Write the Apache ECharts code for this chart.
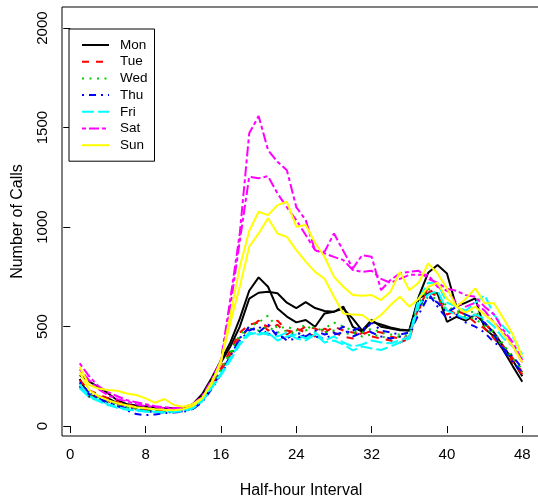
<!DOCTYPE html>
<html>
<head>
<meta charset="utf-8">
<script src="https://cdn.jsdelivr.net/npm/echarts@6/dist/echarts.min.js"></script>
<style>
html,body{margin:0;padding:0;background:#fff;}
#chart{width:538px;height:502px;}
</style>
</head>
<body>
<div id="chart"></div>
<script>
var intervals = [1,2,3,4,5,6,7,8,9,10,11,12,13,14,15,16,17,18,19,20,21,22,23,24,25,26,27,28,29,30,31,32,33,34,35,36,37,38,39,40,41,42,43,44,45,46,47,48];
var xTicks = [0,8,16,24,32,40,48];
var yTicks = [0,500,1000,1500,2000];
var dayNames = ["Mon","Tue","Wed","Thu","Fri","Sat","Sun"];

var mon1 = [256,225,195,165,130,110,105,100,95,90,88,92,110,160,240,330,420,540,680,747,700,591,550,521,533,499,566,574,600,499,474,524,510,495,485,480,650,770,809,767,600,620,642,490,450,380,300,223];
var mon2 = [236,147,148,140,114,108,100,95,92,90,88,94,105,150,230,320,400,500,640,670,675,667,620,593,623,593,578,575,590,540,480,533,499,490,482,480,642,667,667,524,549,530,560,516,470,400,330,250];
var tue1 = [230,180,160,140,120,110,95,85,80,75,78,80,95,140,210,290,380,470,510,520,500,530,480,470,500,490,470,500,480,470,460,480,470,450,440,450,600,680,650,590,560,540,560,520,460,400,340,270];
var tue2 = [200,160,140,125,110,100,90,80,75,70,72,78,90,130,200,280,360,450,490,530,480,510,460,490,470,450,490,470,450,440,470,450,440,430,420,440,580,700,640,560,580,560,520,490,440,390,320,260];
var wed1 = [215,165,145,125,110,95,88,80,78,75,78,82,95,135,205,285,370,460,500,520,555,490,500,480,510,470,490,520,500,480,470,490,470,460,460,470,620,690,660,600,580,560,580,520,470,410,350,280];
var wed2 = [195,155,138,120,105,92,85,78,74,72,74,80,92,130,195,275,360,445,490,480,500,470,480,460,480,500,470,480,460,470,450,460,450,440,450,460,590,650,640,580,570,550,540,500,450,400,340,270];
var thu1 = [220,170,140,120,100,80,60,55,58,65,68,72,85,125,190,270,350,440,500,470,510,450,440,470,450,480,460,470,500,450,470,520,480,470,460,470,560,650,620,570,600,560,540,520,460,380,320,270];
var thu2 = [200,160,135,115,100,90,80,75,70,68,70,75,85,120,185,260,340,430,480,500,460,470,430,440,460,450,440,460,470,480,500,470,450,440,450,440,600,670,600,540,560,520,500,470,420,390,350,290];
var fri1 = [210,150,130,110,95,85,80,75,72,70,75,80,90,130,195,265,340,420,470,460,470,430,450,460,440,470,430,450,420,400,410,430,420,416,430,450,640,720,717,620,600,580,620,658,560,500,449,360];
var fri2 = [190,145,125,105,92,82,78,72,70,68,70,75,88,125,190,255,330,410,460,470,460,450,470,440,430,460,420,430,410,380,400,390,382,400,420,440,610,660,680,580,560,540,560,540,500,440,400,340];
var sat1 = [315,250,200,170,150,130,120,110,100,95,90,95,110,150,230,332,640,968,1471,1558,1387,1328,1286,1100,1035,880,876,968,880,792,859,851,683,734,767,775,780,740,720,690,680,658,650,600,560,482,420,332];
var sat2 = [285,230,185,155,135,125,110,100,95,90,85,90,105,145,220,320,600,930,1253,1245,1256,1169,1100,1035,960,884,868,850,834,784,775,780,740,720,740,760,760,760,700,680,620,600,620,580,520,470,400,320];
var sun1 = [298,206,189,181,177,164,156,139,117,136,106,97,110,140,220,320,560,800,980,1077,1060,1110,1127,1002,1010,920,851,750,700,658,655,658,633,675,775,683,720,817,767,692,600,640,692,617,617,540,460,348];
var sun2 = [270,180,150,130,115,105,95,90,85,82,80,85,100,140,210,330,520,700,901,968,1044,968,951,884,826,775,740,650,566,560,558,524,558,608,650,600,640,700,720,640,600,570,600,560,520,460,400,320];

var seriesValues = [mon1,mon2,tue1,tue2,wed1,wed2,thu1,thu2,fri1,fri2,sat1,sat2,sun1,sun2];
var seriesDay = ["Mon","Mon","Tue","Tue","Wed","Wed","Thu","Thu","Fri","Fri","Sat","Sat","Sun","Sun"];

var dayColor = {Mon:"#000000",Tue:"#FF0000",Wed:"#00CD00",Thu:"#0000FF",Fri:"#00FFFF",Sat:"#FF00FF",Sun:"#FFFF00"};
var dayDash = {Mon:"solid",Tue:[7,7],Wed:[2,5.5],Thu:[2,5,7,5],Fri:[12,4],Sat:[4,3,10,3],Sun:"solid"};

var FONT = "'Liberation Sans', Arial, Helvetica, sans-serif";

var series = seriesValues.map(function(vals, k){
  var d = seriesDay[k];
  return {
    name: d,
    type: 'line',
    symbol: 'none',
    showSymbol: false,
    silent: true,
    animation: false,
    data: intervals.map(function(x,i){ return [x, vals[i]]; }),
    lineStyle: {color: dayColor[d], width: 2, type: dayDash[d]},
    itemStyle: {color: dayColor[d]}
  };
});

var chart = echarts.init(document.getElementById('chart'), null, {renderer:'canvas'});
chart.setOption({
  animation: false,
  backgroundColor: '#ffffff',
  grid: {left: 62, top: 7, width: 478, height: 429, show: true, borderColor: '#000', borderWidth: 1,
    backgroundColor: 'transparent', containLabel: false, outerBoundsMode: 'none'},
  xAxis: {
    type: 'value', min: -0.88, max: 49.88,
    name: 'Half-hour Interval', nameLocation: 'middle', nameGap: 47,
    nameTextStyle: {fontFamily: FONT, fontSize: 16, color: '#000'},
    axisLine: {show: false},
    splitLine: {show: false},
    axisTick: {show: true, inside: false, length: 7, lineStyle: {color: '#000', width: 1}, customValues: xTicks},
    axisLabel: {show: true, margin: 11, fontFamily: FONT, fontSize: 15, color: '#000', customValues: xTicks,
      formatter: function(v){ return String(v); }}
  },
  yAxis: {
    type: 'value', min: -50, max: 2106,
    name: 'Number of Calls', nameLocation: 'middle', nameGap: 36,
    nameTextStyle: {fontFamily: FONT, fontSize: 16, color: '#000'},
    axisLine: {show: false},
    splitLine: {show: false},
    axisTick: {show: true, inside: false, length: 7, lineStyle: {color: '#000', width: 1}, customValues: yTicks},
    axisLabel: {show: true, rotate: 90, margin: 12, fontFamily: FONT, fontSize: 15, color: '#000', customValues: yTicks,
      formatter: function(v){ return String(v); }}
  },
  legend: {
    data: dayNames,
    orient: 'vertical',
    left: 69, top: 29,
    padding: [9, 7, 9, 12],
    itemWidth: 27, itemHeight: 14, itemGap: 2.7,
    borderColor: '#000', borderWidth: 1, backgroundColor: '#fff',
    itemStyle: {opacity: 0},
    textStyle: {fontFamily: FONT, fontSize: 13.5, color: '#000', padding: [0,0,0,6]},
    selectedMode: false
  },
  series: series
});
</script>
</body>
</html>
